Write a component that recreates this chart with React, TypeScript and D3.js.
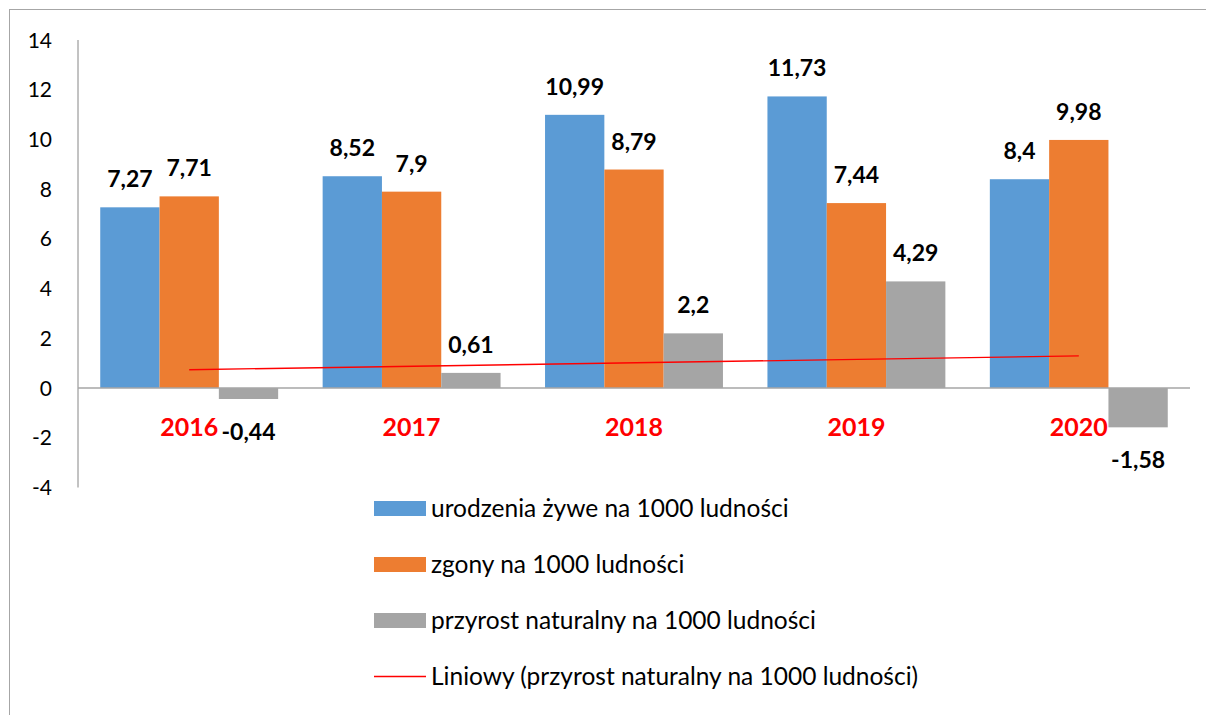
import React from "react";
import { scaleBand, scaleLinear, range, mean, sum } from "d3";

const years = ["2016", "2017", "2018", "2019", "2020"];
const births = [7.27, 8.52, 10.99, 11.73, 8.4];
const deaths = [7.71, 7.9, 8.79, 7.44, 9.98];
const growth = [-0.44, 0.61, 2.2, 4.29, -1.58];
const yTicks = [14, 12, 10, 8, 6, 4, 2, 0, -2, -4];
const seriesNames = [
    "urodzenia żywe na 1000 ludności",
    "zgony na 1000 ludności",
    "przyrost naturalny na 1000 ludności"
];
const trendName = "Liniowy (przyrost naturalny na 1000 ludności)";
const colors = ["#5B9BD5", "#ED7D31", "#A5A5A5"];

const font = "Lato, 'Open Sans', sans-serif";
const fmt = (v: number) => String(v).replace(".", ",");

export default function App() {
    const width = 1206;
    const height = 715;
    const left = 78;
    const right = 1190;

    const x0 = scaleBand().domain(years).range([left, right]).paddingInner(0.2).paddingOuter(0.1);
    const x1 = scaleBand().domain(["0", "1", "2"]).range([0, x0.bandwidth()]);
    const y = scaleLinear().domain([-4, 14]).range([487.5, 40]);

    const series = [births, deaths, growth];

    // linear trend of the natural growth series
    const xs = range(1, years.length + 1);
    const mx = mean(xs) as number;
    const my = mean(growth) as number;
    const slope =
        sum(xs, (x, i) => (x - mx) * (growth[i] - my)) / sum(xs, (x) => (x - mx) * (x - mx));
    const trend = (x: number) => my + slope * (x - mx);
    const cx = (yr: string) => (x0(yr) as number) + x0.bandwidth() / 2;

    return (
        <div style={{ position: "fixed", left: 0, top: 0 }}>
            <svg width={width} height={height} style={{ display: "block", background: "#fff" }}>
                <rect x={9.5} y={9.5} width={1300} height={800} fill="none" stroke="#a6a6a6" strokeWidth={1} />

                {/* y axis */}
                <line x1={left} x2={left} y1={y(14)} y2={y(-4)} stroke="#868686" strokeWidth={1} />
                {yTicks.map((t) => (
                    <text key={t} x={52} y={y(t) + 7.5} textAnchor="end" fontFamily={font} fontSize={21} fill="#000">
                        {t}
                    </text>
                ))}

                {/* bars */}
                {series.map((vals, s) =>
                    vals.map((v, i) => {
                        const bx = (x0(years[i]) as number) + (x1(String(s)) as number);
                        return (
                            <rect
                                key={`${s}-${i}`}
                                x={bx}
                                width={x1.bandwidth()}
                                y={y(Math.max(0, v))}
                                height={Math.abs(y(v) - y(0))}
                                fill={colors[s]}
                            />
                        );
                    })
                )}

                {/* x axis line */}
                <line x1={left} x2={right} y1={y(0)} y2={y(0)} stroke="#a6a6a6" strokeWidth={1.5} />

                {/* trend line */}
                <line
                    x1={cx(years[0])}
                    x2={cx(years[years.length - 1])}
                    y1={y(trend(1))}
                    y2={y(trend(years.length))}
                    stroke="#ff0000"
                    strokeWidth={1.3}
                />

                {/* data labels */}
                {series.map((vals, s) =>
                    vals.map((v, i) => {
                        const lx = (x0(years[i]) as number) + (x1(String(s)) as number) + x1.bandwidth() / 2;
                        const ly = v >= 0 ? y(v) - 20 : y(v) + 41;
                        return (
                            <text
                                key={`l${s}-${i}`}
                                x={lx}
                                y={ly}
                                textAnchor="middle"
                                fontFamily={font}
                                fontWeight="bold"
                                fontSize={23}
                                fill="#000"
                            >
                                {fmt(v)}
                            </text>
                        );
                    })
                )}

                {/* category labels */}
                {years.map((yr) => (
                    <text key={yr} x={cx(yr)} y={436} textAnchor="middle" fontFamily={font} fontWeight="bold" fontSize={25} fill="#ff0000">
                        {yr}
                    </text>
                ))}

                {/* legend */}
                {seriesNames.map((n, i) => (
                    <g key={n} transform={`translate(374, ${508.5 + i * 56})`}>
                        <rect x={0} y={-7.5} width={52} height={15} fill={colors[i]} />
                        <text x={57} y={8.5} fontFamily={font} fontSize={24.5} fill="#000">
                            {n}
                        </text>
                    </g>
                ))}
                <g transform={`translate(374, ${508.5 + 3 * 56})`}>
                    <line x1={0} x2={52} y1={0} y2={0} stroke="#ff0000" strokeWidth={1.3} />
                    <text x={57} y={8.5} fontFamily={font} fontSize={24.5} fill="#000">
                        {trendName}
                    </text>
                </g>
            </svg>
        </div>
    );
}
